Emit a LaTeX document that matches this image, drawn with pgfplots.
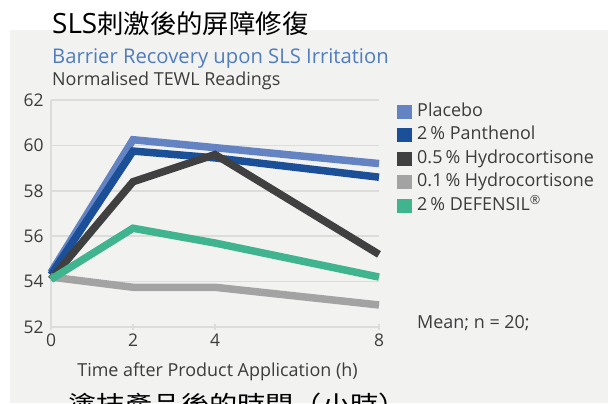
\documentclass[border=0pt]{standalone}
\usepackage{fontspec}
\usepackage{graphicx}
\setmainfont{Open Sans}
\newfontfamily\cjk{Noto Sans CJK TC}
\usepackage{pgfplots}
\pgfplotsset{compat=1.18}
\definecolor{panel}{HTML}{F2F2F1}
\definecolor{gridc}{HTML}{DCDCDA}
\definecolor{txt}{HTML}{3C3C3C}
\definecolor{ttlblue}{HTML}{4F7DBF}
\definecolor{cPlacebo}{HTML}{6383C2}
\definecolor{cPanth}{HTML}{1B4F97}
\definecolor{cHC5}{HTML}{404040}
\definecolor{cHC1}{HTML}{A3A3A3}
\definecolor{cDef}{HTML}{3FB48F}
\begin{document}
\begin{tikzpicture}[x=1bp,y=1bp]
\useasboundingbox (0,0) rectangle (611,403);
\fill[white] (0,0) rectangle (611,403);
\fill[panel] (10,0) rectangle (608,373);
\node[anchor=base west, inner sep=0pt, text=black] at (52,370) {\fontsize{28}{32}\selectfont SLS\scalebox{1.02}[1]{\cjk\fontsize{26}{30}\selectfont 刺激後的屏障修復}};
\node[anchor=base west, inner sep=0pt, text=ttlblue] at (52,340) {\fontsize{20.3}{24}\selectfont Barrier Recovery upon SLS Irritation};
\node[anchor=base west, inner sep=0pt, text=txt] at (52,318) {\fontsize{18}{21}\selectfont Normalised TEWL Readings};
\begin{axis}[
  at={(51bp,76bp)}, anchor=south west, scale only axis,
  width=328bp, height=227bp,
  xmin=0, xmax=8, ymin=52, ymax=62,
  xtick={0,2,4,8}, ytick={52,54,56,58,60,62},
  axis lines=left, axis line style={-, draw=gridc, line width=1.5bp},
  ymajorgrids, grid style={draw=gridc, line width=1.5bp},
  tick style={draw=gridc, line width=1.5bp},
  major tick length=6bp, tick align=center,
  ytick style={draw=none},
  xtick style={draw=gridc},
  /pgf/number format/assume math mode=true,
  tick label style={text=txt, font=\fontsize{17.5}{20}\selectfont},
  yticklabel style={xshift=-1bp},
  xticklabel style={yshift=0bp},
  clip=false,
  legend style={draw=none, fill=none, at={(1.055,0.986)}, anchor=north west,
    font=\fontsize{18}{21}\selectfont, text=txt, row sep=6.5bp, inner sep=0pt,
    nodes={inner sep=0pt, text height=13bp, text depth=4bp},
    /tikz/every odd column/.append style={column sep=5bp}},
  legend cell align=left,
  legend image code/.code={\fill[#1, draw=none] (0bp,-7bp) rectangle (15bp,7bp);},
  every axis plot/.append style={line width=7.5bp, line join=miter},
]
\addplot[cPlacebo] coordinates {(0,54.4) (2,60.25) (4,59.9) (8,59.2)};
\addlegendentry{Placebo}
\addplot[cPanth] coordinates {(0,54.3) (2,59.75) (4,59.45) (8,58.6)};
\addlegendentry{2\,\% Panthenol}
\addplot[cHC5] coordinates {(0,54.1) (2,58.4) (4,59.6) (8,55.2)};
\addlegendentry{0.5\,\% Hydrocortisone}
\addplot[cHC1] coordinates {(0,54.2) (2,53.75) (4,53.75) (8,52.97)};
\addlegendentry{0.1\,\% Hydrocortisone}
\addplot[cDef] coordinates {(0,54.1) (2,56.35) (4,55.7) (8,54.2)};
\addlegendentry{2\,\% DEFENSIL\textsuperscript{®}}
\end{axis}
\node[anchor=west, inner sep=0pt, text=txt] at (417,80) {\fontsize{18}{21}\selectfont Mean; n = 20;};
\node[anchor=center, inner sep=0pt, text=txt] at (217.5,31) {\fontsize{18}{21}\selectfont Time after Product Application (h)};
\node[anchor=base west, inner sep=0pt, text=black] at (68,-10) {\scalebox{1.18}[1]{\cjk\fontsize{24}{28}\selectfont 塗抹產品後的時間（小時）}};
\end{tikzpicture}
\end{document}
